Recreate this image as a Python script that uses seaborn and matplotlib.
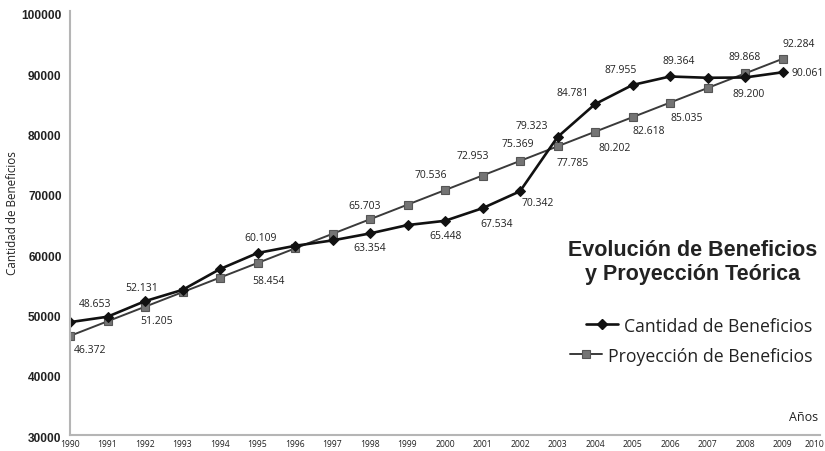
import matplotlib
matplotlib.use("Agg")
import matplotlib.pyplot as plt
import pandas as pd
import seaborn as sns
from matplotlib.lines import Line2D
from matplotlib.transforms import ScaledTranslation

# Años y series
years = list(range(1990, 2010))
cantidad = [48653, 49550, 52131, 54000, 57450, 60109, 61300, 62200, 63354, 64740,
            65448, 67534, 70342, 79323, 84781, 87955, 89364, 89150, 89200, 90061]
proyeccion = [46372, 48789, 51205, 53622, 56038, 58454, 60871, 63287, 65703, 68120,
              70536, 72953, 75369, 77785, 80202, 82618, 85035, 87451, 89868, 92284]

# Etiquetas visibles: año -> desplazamiento de la etiqueta en px (x derecha, y abajo)
labels_cantidad = {1990: (25, -19), 1992: (-3, -14), 1995: (3, -16), 1998: (0, 14),
                   2000: (1, 15), 2001: (14, 15), 2002: (18, 11), 2003: (-26, -12),
                   2004: (-22, -12), 2005: (-12, -15), 2006: (9, -16), 2008: (4, 16),
                   2009: (9, 0)}
labels_proyeccion = {1990: (20, 14), 1992: (12, 14), 1995: (11, 17), 1998: (-5, -14),
                     2000: (-14, -16), 2001: (-10, -20), 2002: (-2, -17), 2003: (15, 16),
                     2004: (20, 16), 2005: (16, 13), 2006: (17, 15), 2008: (0, -17),
                     2009: (16, -15)}

serie_a = "Cantidad de Beneficios"
serie_b = "Proyección de Beneficios"
df = pd.DataFrame({
    "Año": years * 2,
    "Valor": cantidad + proyeccion,
    "Serie": [serie_a] * len(years) + [serie_b] * len(years),
})

sns.set_style("white")
plt.rcParams["font.family"] = ["Open Sans", "DejaVu Sans"]

W, H = 825, 452
fig = plt.figure(figsize=(W / 100, H / 100), dpi=100)
ax = fig.add_axes([70 / W, 1 - 435.7 / H, (820 - 70) / W, (435.7 - 11.5) / H])

style_b = dict(color="#3a3a3a", linewidth=1.4, marker="s", markersize=6,
               markerfacecolor="#747474", markeredgecolor="#555555", markeredgewidth=0.8)
style_a = dict(color="#111111", linewidth=1.9, marker="D", markersize=5,
               markerfacecolor="#111111", markeredgecolor="#111111")

sns.lineplot(data=df[df["Serie"] == serie_b], x="Año", y="Valor", ax=ax,
             legend=False, **style_b)
sns.lineplot(data=df[df["Serie"] == serie_a], x="Año", y="Valor", ax=ax,
             legend=False, **style_a)


def fmt(v):
    return f"{v:,}".replace(",", ".")


for data, offs, name in ((cantidad, labels_cantidad, serie_a),
                         (proyeccion, labels_proyeccion, serie_b)):
    for yr, (dx, dy) in offs.items():
        v = data[years.index(yr)]
        ha = "left" if (yr == 2009 and name == serie_a) else "center"
        ax.annotate(fmt(v), (yr, v), xytext=(dx * 0.72, -dy * 0.72),
                    textcoords="offset points", ha=ha, va="center",
                    fontsize=7.5, color="#222222", annotation_clip=False)

ax.set_xlim(1990, 2010)
ax.set_ylim(30000, 100300)
ax.set_xticks(range(1990, 2011))
ax.set_yticks(range(30000, 100001, 10000))
ax.set_yticklabels([str(v) for v in range(30000, 100001, 10000)],
                   family=["Liberation Sans", "DejaVu Sans"], fontweight="bold",
                   fontsize=8.6, color="#222222")
ax.tick_params(axis="x", labelsize=6.2, length=2, width=0.6, colors="#999999",
               labelcolor="#222222", pad=3, direction="in")
ax.tick_params(axis="y", length=0, pad=6)
shift = ScaledTranslation(0, -1.5 / 100, fig.dpi_scale_trans)
for lbl in ax.get_yticklabels():
    lbl.set_transform(lbl.get_transform() + shift)
# el último año se alinea a la derecha para que quepa en el borde
ax.get_xticklabels()[-1].set_horizontalalignment("right")
ax.get_xticklabels()[-1].set_transform(
    ax.get_xticklabels()[-1].get_transform()
    + ScaledTranslation(4 / 100, 0, fig.dpi_scale_trans))

for s in ("top", "right"):
    ax.spines[s].set_visible(False)
for s in ("left", "bottom"):
    ax.spines[s].set_color("#b5b5b5")
    ax.spines[s].set_linewidth(1.5)

ax.set_xlabel("")
ax.set_ylabel("Cantidad de Beneficios", fontsize=8.4, color="#222222")
ax.yaxis.set_label_coords(-0.068, 0.525)

fig.text(804 / W, 1 - 418 / H, "Años", fontsize=9, color="#222222",
         ha="center", va="center")

fig.text(693 / W, 1 - 262.5 / H, "Evolución de Beneficios\ny Proyección Teórica",
         family=["Liberation Sans", "DejaVu Sans"], fontweight="bold", fontsize=15.5,
         color="#222222", ha="center", va="center", linespacing=1.15)

# Leyenda: cada entrada alineada a la derecha
for label, style, ypix in ((serie_a, style_a, 326.5), (serie_b, style_b, 356.5)):
    handle = Line2D([], [], **style)
    fig.legend([handle], [label], loc="center right",
               bbox_to_anchor=(812 / W, 1 - ypix / H), frameon=False,
               fontsize=12.7, handlelength=1.85, handletextpad=0.3,
               borderpad=0, borderaxespad=0, labelcolor="#222222")

fig.savefig("out.png", dpi=100)
